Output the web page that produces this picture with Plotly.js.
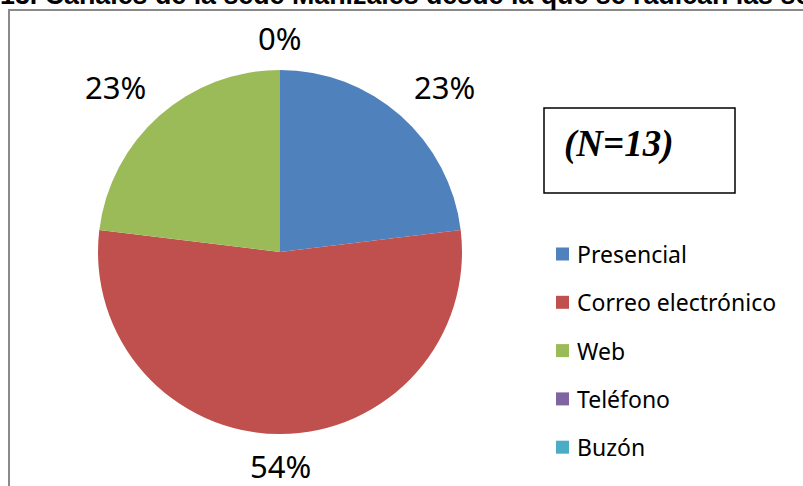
<!DOCTYPE html>
<html>
<head>
<meta charset="utf-8">
<script src="https://cdn.plot.ly/plotly-3.0.1.min.js"></script>
<style>html,body{margin:0;padding:0;background:#fff;}#chart{width:803px;height:486px;}</style>
</head>
<body>
<div id="chart"></div>
<script>
// ---- data ----
const categories = ["Presencial", "Correo electrónico", "Web", "Teléfono", "Buzón"];
const counts = [3, 7, 3, 0, 0];
const colors = ["#4F81BD", "#C0504D", "#9BBB59", "#8064A2", "#4BACC6"];
const chartTitle = "13. Canales de la sede Manizales desde la que se radican las solicitudes";
const sampleNote = "(N=13)";

// ---- geometry (pixels) ----
const W = 803, H = 486;
const cx = 280, cy = 252, R = 182;
const px = x => x / W;
const py = y => 1 - y / H;

const total = counts.reduce((a, b) => a + b, 0);

const trace = {
  type: "pie",
  labels: categories,
  values: counts,
  sort: false,
  direction: "clockwise",
  rotation: 0,
  textinfo: "none",
  hoverinfo: "label+value+percent",
  marker: { colors: colors, line: { width: 0 } },
  domain: { x: [px(cx - R), px(cx + R)], y: [py(cy + R), py(cy - R)] },
  showlegend: false
};

const annotations = [];
const shapes = [];

// percentage labels outside each slice
const labelFont = { family: "Noto Sans, Open Sans, sans-serif", size: 31, color: "#000" };
const boxW = 72, boxH = 40, gap = 12;
let cum = 0;
const seen = new Set();
counts.forEach((v, i) => {
  const start = cum / total * 2 * Math.PI;
  cum += v;
  const end = cum / total * 2 * Math.PI;
  const th = (start + end) / 2;
  const s = Math.sin(th), c = Math.cos(th);
  const ax = cx + (R + gap) * s, ay = cy - (R + gap) * c;
  const sx = Math.abs(s) > 0.3 ? Math.sign(s) : 0;
  const sy = Math.abs(c) > 0.3 ? -Math.sign(c) : 0;
  const lx = ax + sx * boxW / 2, ly = ay + sy * boxH / 2;
  const key = Math.round(lx) + "," + Math.round(ly);
  if (seen.has(key)) return;
  seen.add(key);
  annotations.push({
    xref: "paper", yref: "paper", x: px(lx), y: py(ly),
    xanchor: "center", yanchor: "middle", showarrow: false,
    text: Math.round(v / total * 100) + "%", font: labelFont
  });
});

// manual legend
const legX = 556, legY0 = 254, legStep = 48.3, sq = 13;
categories.forEach((cat, i) => {
  const yc = legY0 + i * legStep;
  shapes.push({
    type: "rect", xref: "paper", yref: "paper",
    x0: px(legX), x1: px(legX + sq), y0: py(yc + sq / 2), y1: py(yc - sq / 2),
    fillcolor: colors[i], line: { width: 0 }
  });
  annotations.push({
    xref: "paper", yref: "paper", x: px(legX + sq + 6), y: py(yc),
    xanchor: "left", yanchor: "middle", showarrow: false,
    text: cat, font: { family: "Noto Sans, Open Sans, sans-serif", size: 23, color: "#000" }
  });
});

// N box
shapes.push({
  type: "rect", xref: "paper", yref: "paper",
  x0: px(544), x1: px(735), y0: py(193), y1: py(108),
  fillcolor: "rgba(0,0,0,0)", line: { color: "#000", width: 1.5 }
});
annotations.push({
  xref: "paper", yref: "paper", x: px(562), y: py(144),
  xanchor: "left", yanchor: "middle", showarrow: false,
  text: "<b><i>" + sampleNote + "</i></b>",
  font: { family: "Liberation Serif, Times New Roman, serif", size: 37, color: "#000" }
});

// outer chart frame
shapes.push({
  type: "rect", xref: "paper", yref: "paper",
  x0: px(9), x1: px(830), y0: py(520), y1: py(10),
  fillcolor: "rgba(0,0,0,0)", line: { color: "#8a8a8a", width: 2 }
});

// clipped title above frame
annotations.push({
  xref: "paper", yref: "paper", x: px(-2), y: py(12),
  xanchor: "left", yanchor: "bottom", showarrow: false,
  text: "<b>" + chartTitle + "</b>",
  font: { family: "Liberation Sans, Arial, sans-serif", size: 26.8, color: "#000" }
});

const layout = {
  width: W, height: H,
  margin: { l: 0, r: 0, t: 0, b: 0 },
  paper_bgcolor: "#fff",
  showlegend: false,
  annotations: annotations,
  shapes: shapes
};

Plotly.newPlot("chart", [trace], layout, { displayModeBar: false, staticPlot: true });
</script>
</body>
</html>
